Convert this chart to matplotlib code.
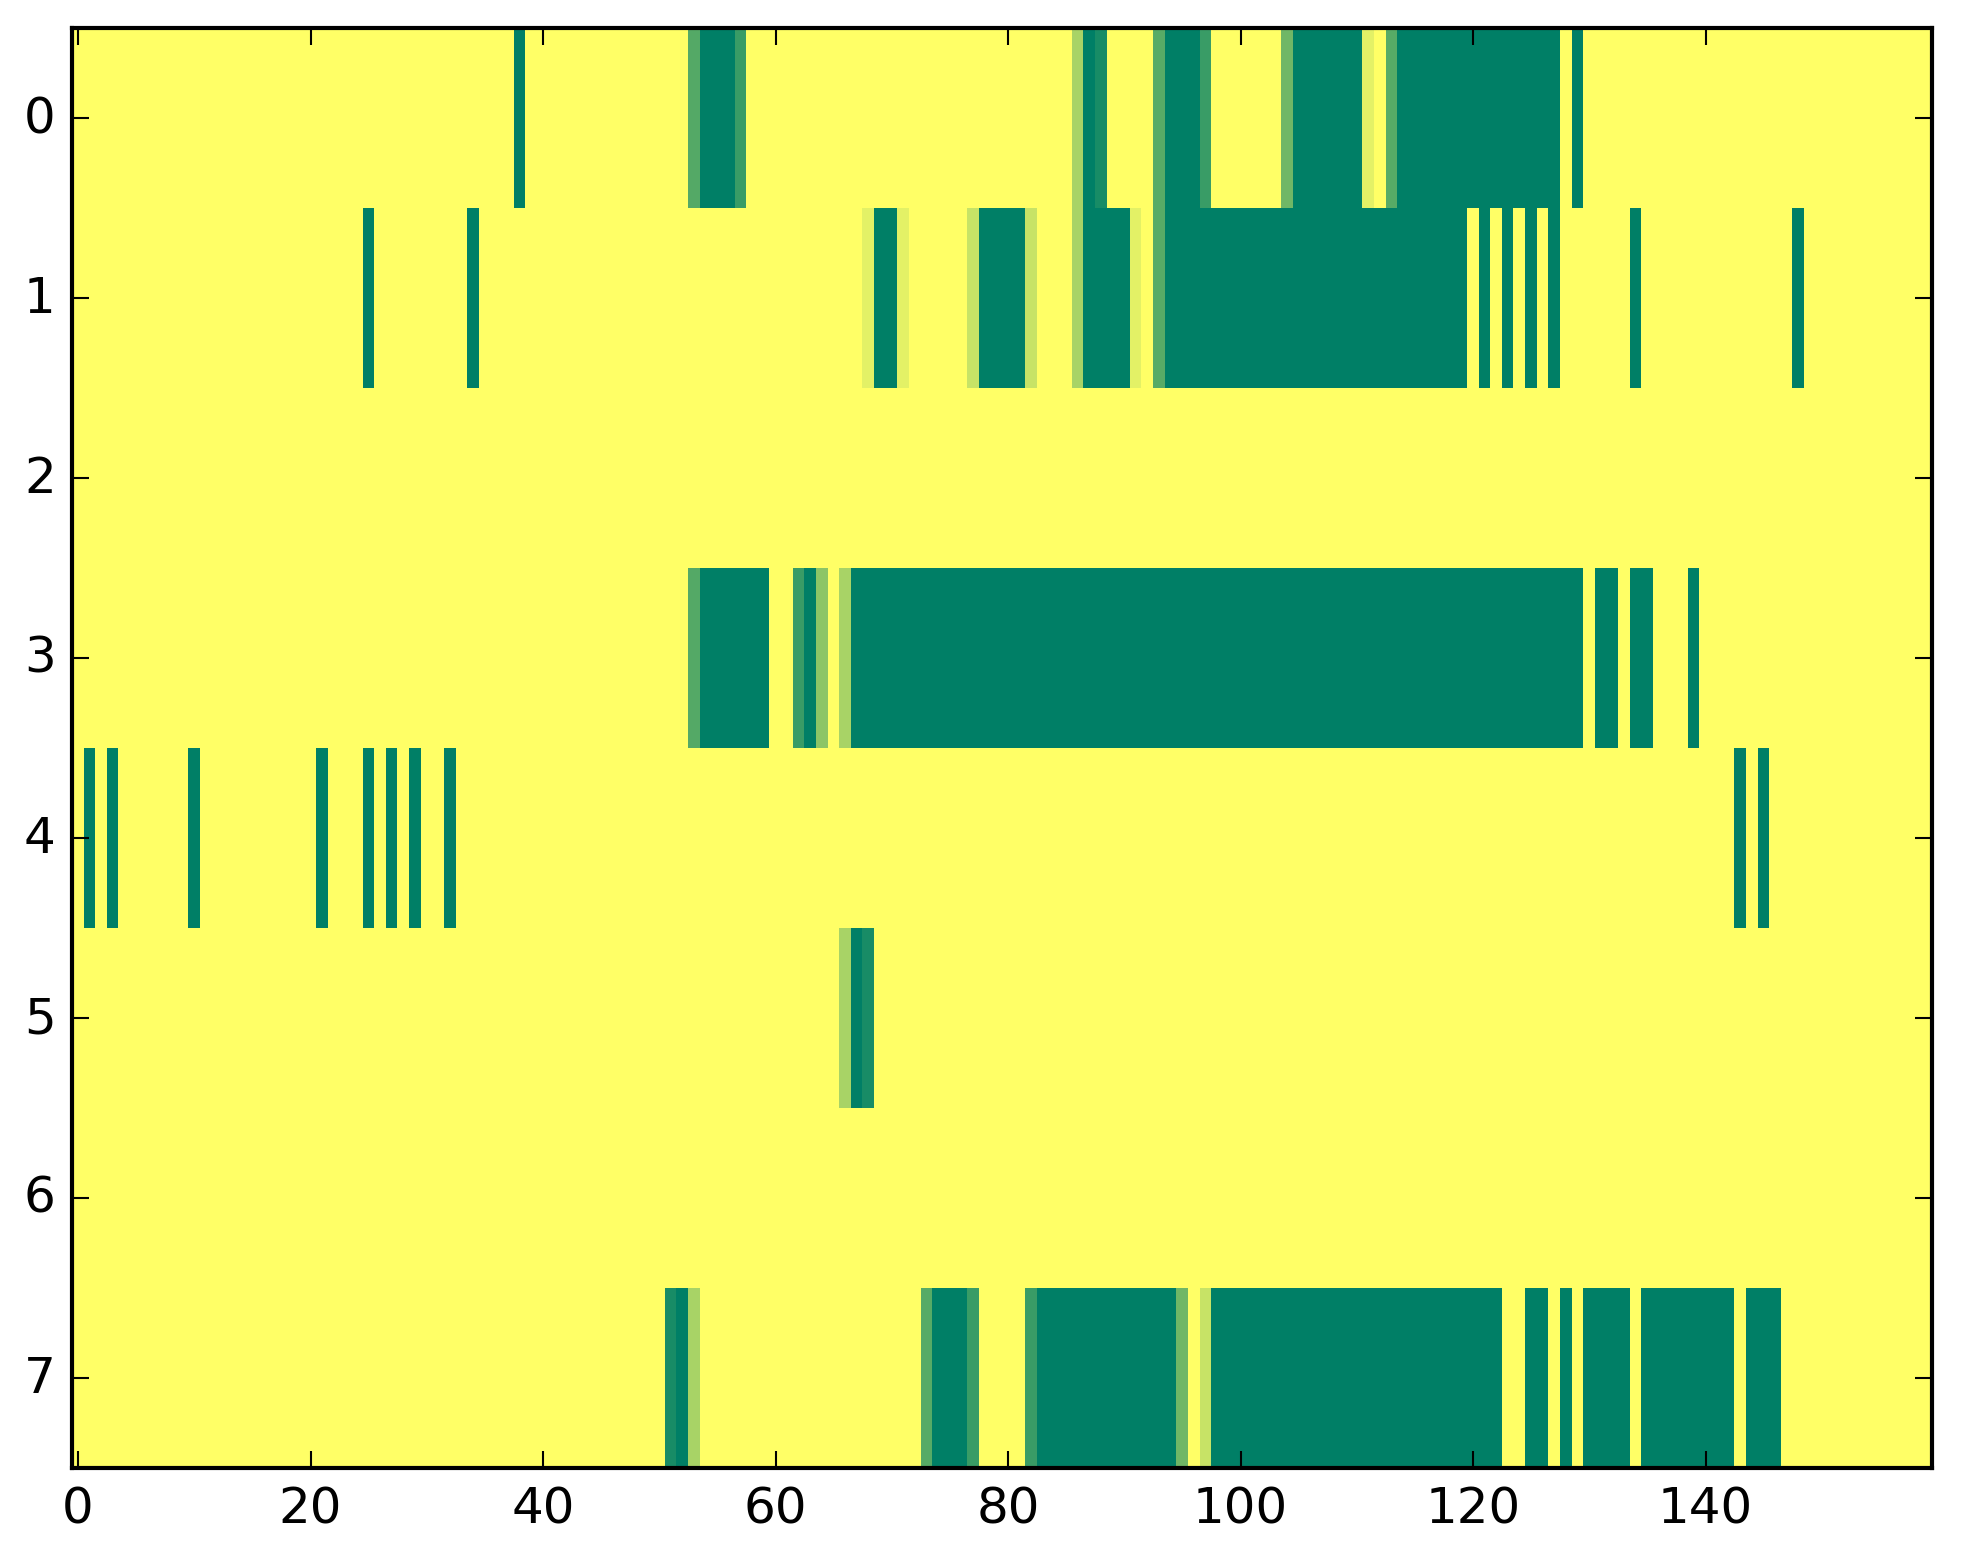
import numpy as np
import matplotlib
matplotlib.use("Agg")
import matplotlib.pyplot as plt

# grid size: 8 rows, 160 columns
n_rows = 8
n_cols = 160

# non-zero cells per row as (first column, last column, value)
row0 = [(38, 38, 1.0),
        (53, 53, 0.67), (54, 56, 1.0), (57, 57, 0.77),
        (86, 86, 0.34), (87, 87, 1.0), (88, 88, 0.9),
        (93, 93, 0.66), (94, 96, 1.0), (97, 97, 0.77),
        (104, 104, 0.56), (105, 110, 1.0), (111, 111, 0.11),
        (113, 113, 0.66), (114, 127, 1.0), (129, 129, 1.0)]
row1 = [(25, 25, 1.0), (34, 34, 1.0),
        (68, 68, 0.11), (69, 70, 1.0), (71, 71, 0.11),
        (77, 77, 0.22), (78, 81, 1.0), (82, 82, 0.22),
        (86, 86, 0.34), (87, 90, 1.0), (91, 91, 0.11),
        (93, 93, 0.66), (94, 119, 1.0),
        (121, 121, 1.0), (123, 123, 1.0), (125, 125, 1.0), (127, 127, 1.0),
        (134, 134, 1.0), (148, 148, 1.0)]
row2 = []
row3 = [(53, 53, 0.67), (54, 59, 1.0),
        (62, 62, 0.77), (63, 63, 1.0), (64, 64, 0.45),
        (66, 66, 0.34), (67, 129, 1.0),
        (131, 132, 1.0), (134, 135, 1.0), (139, 139, 1.0)]
row4 = [(1, 1, 1.0), (3, 3, 1.0), (10, 10, 1.0), (21, 21, 1.0),
        (25, 25, 1.0), (27, 27, 1.0), (29, 29, 1.0), (32, 32, 1.0),
        (143, 143, 1.0), (145, 145, 1.0)]
row5 = [(66, 66, 0.34), (67, 67, 1.0), (68, 68, 0.9)]
row6 = []
row7 = [(51, 51, 0.9), (52, 52, 1.0), (53, 53, 0.34),
        (73, 73, 0.66), (74, 76, 1.0), (77, 77, 0.77),
        (82, 82, 0.77), (83, 94, 1.0), (95, 95, 0.56),
        (97, 97, 0.22), (98, 122, 1.0),
        (125, 126, 1.0), (128, 128, 1.0), (130, 133, 1.0),
        (135, 142, 1.0), (144, 146, 1.0)]

rows = [row0, row1, row2, row3, row4, row5, row6, row7]


def build_grid(rows):
    grid = np.zeros((n_rows, n_cols))
    for r, segments in enumerate(rows):
        for first, last, value in segments:
            grid[r, first:last + 1] = value
    return grid


grid = build_grid(rows)

plt.style.use("classic")
W, H, DPI = 1963, 1564, 300
fig = plt.figure(figsize=(W / DPI, H / DPI), facecolor="white")
# axes box placed where it sits in the reference (pixels)
ax = fig.add_axes([72.3 / W, (H - 1469) / H, 1860 / W, 1440 / H])
ax.imshow(grid, cmap="summer_r", vmin=0, vmax=1,
          interpolation="nearest", aspect="auto")

fig.savefig("out.png", dpi=DPI, facecolor="white")
